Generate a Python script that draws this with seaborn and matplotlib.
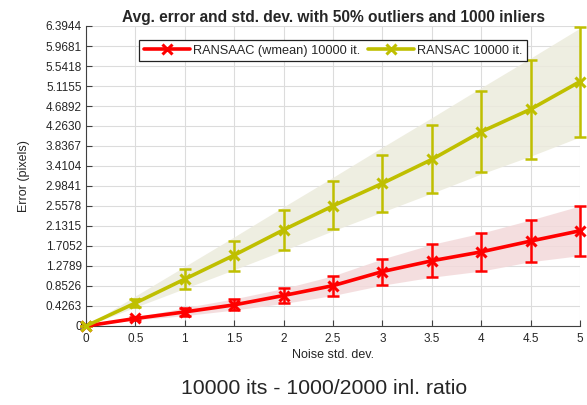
import numpy as np
import pandas as pd
import matplotlib
matplotlib.use("Agg")
import matplotlib.pyplot as plt
import seaborn as sns
from matplotlib.lines import Line2D

noise = [0, 0.5, 1, 1.5, 2, 2.5, 3, 3.5, 4, 4.5, 5]
ransaac_mean = [0, 0.16, 0.30, 0.45, 0.65, 0.86, 1.16, 1.39, 1.58, 1.81, 2.03]
ransaac_lo = [0, 0.13, 0.22, 0.34, 0.48, 0.65, 0.87, 1.04, 1.17, 1.37, 1.50]
ransaac_hi = [0, 0.19, 0.39, 0.58, 0.80, 1.07, 1.43, 1.74, 1.98, 2.26, 2.56]
ransac_mean = [0, 0.49, 1.00, 1.51, 2.05, 2.56, 3.04, 3.55, 4.14, 4.62, 5.21]
ransac_lo = [0, 0.41, 0.79, 1.18, 1.61, 2.06, 2.42, 2.83, 3.29, 3.57, 4.03]
ransac_hi = [0, 0.58, 1.21, 1.82, 2.47, 3.08, 3.64, 4.28, 5.01, 5.68, 6.37]
band_ransac_lo = [0, 0.40, 0.80, 1.20, 1.61, 2.03, 2.43, 2.83, 3.24, 3.62, 4.03]
band_ransac_hi = [0, 0.64, 1.27, 1.90, 2.54, 3.17, 3.81, 4.44, 5.08, 5.71, 6.35]
ytick_labels = ["0", "0.4263", "0.8526", "1.2789", "1.7052", "2.1315", "2.5578", "2.9841",
                "3.4104", "3.8367", "4.2630", "4.6892", "5.1155", "5.5418", "5.9681", "6.3944"]
xtick_labels = ["0", "0.5", "1", "1.5", "2", "2.5", "3", "3.5", "4", "4.5", "5"]
labels = ["RANSAAC (wmean) 10000 it.", "RANSAC 10000 it."]

sns.set_style("white")
plt.rcParams["font.family"] = ["Liberation Sans", "DejaVu Sans"]

RED = "#ff0000"
YEL = "#bfbf00"

fig = plt.figure(figsize=(5.87, 4.05), dpi=100)
ax = fig.add_axes([86 / 587, 1 - 326 / 405, (580 - 86) / 587, 300 / 405])

df = pd.DataFrame({
    "noise": noise * 2,
    "err": ransaac_mean + ransac_mean,
    "method": [labels[0]] * len(noise) + [labels[1]] * len(noise),
})

# shaded bands
ax.fill_between(noise, ransaac_lo, ransaac_hi, color="#f3d9da", alpha=0.85, lw=0, zorder=1)
ax.fill_between(noise, band_ransac_lo, band_ransac_hi, color="#ecebdc", alpha=0.85, lw=0, zorder=1)

# mean lines via seaborn
n_before = len(ax.lines)
sns.lineplot(data=df, x="noise", y="err", hue="method", palette=[RED, YEL],
             lw=2.6, ax=ax, legend=False)
for line in ax.lines[n_before:]:
    c = line.get_color()
    line.set_marker("x")
    line.set_markersize(7)
    line.set_markeredgewidth(2.2)
    line.set_markeredgecolor(c)
    line.set_markerfacecolor(c)
    line.set_clip_on(False)
    line.set_zorder(4)

# error bars
for m, lo, hi, c in [(ransaac_mean, ransaac_lo, ransaac_hi, RED),
                     (ransac_mean, ransac_lo, ransac_hi, YEL)]:
    m = np.array(m); lo = np.array(lo); hi = np.array(hi)
    ax.errorbar(noise, m, yerr=[m - lo, hi - m], fmt="none", ecolor=c,
                elinewidth=1.8, capsize=4.5, capthick=1.8, zorder=3, clip_on=False)

ax.set_xlim(0, 5)
ax.set_ylim(0, 6.3944)
yt = [float(v) for v in ytick_labels]
ax.set_yticks(yt)
ax.set_yticklabels(ytick_labels)
ax.set_xticks(noise)
ax.set_xticklabels(xtick_labels)
ax.grid(True, color="#dcdcdc", lw=0.8)
ax.set_axisbelow(True)
for s in ["top", "right"]:
    ax.spines[s].set_visible(False)
for s in ["left", "bottom"]:
    ax.spines[s].set_color("#404040")
    ax.spines[s].set_linewidth(0.8)
ax.tick_params(direction="in", length=4, width=0.8, color="#404040",
               labelsize=8.5, left=True, bottom=True)
ax.tick_params(axis="x", pad=5)
ax.tick_params(axis="y", pad=3)
ax.set_xlabel("Noise std. dev.", fontsize=9, labelpad=3)
ax.set_ylabel("Error (pixels)", fontsize=9, labelpad=11)
ax.set_title("Avg. error and std. dev. with 50% outliers and 1000 inliers",
             fontsize=11.2, fontweight="bold", pad=3)

handles = [Line2D([], [], color=RED, lw=2.6, marker="x", ms=7, mew=2.2),
           Line2D([], [], color=YEL, lw=2.6, marker="x", ms=7, mew=2.2)]
leg = ax.legend(handles, labels, loc="upper center", bbox_to_anchor=(0.5, 0.953), ncol=2,
                fontsize=9.2, frameon=True, fancybox=False, framealpha=1,
                edgecolor="#222222", handlelength=3.6, columnspacing=0.6,
                borderpad=0.35, handletextpad=0.25, borderaxespad=0)
leg.get_frame().set_linewidth(0.9)

fig.text(324 / 587, 1 - 389 / 405, "10000 its - 1000/2000 inl. ratio", ha="center", va="center",
         fontsize=15.3)

fig.savefig("out.png", dpi=100)
